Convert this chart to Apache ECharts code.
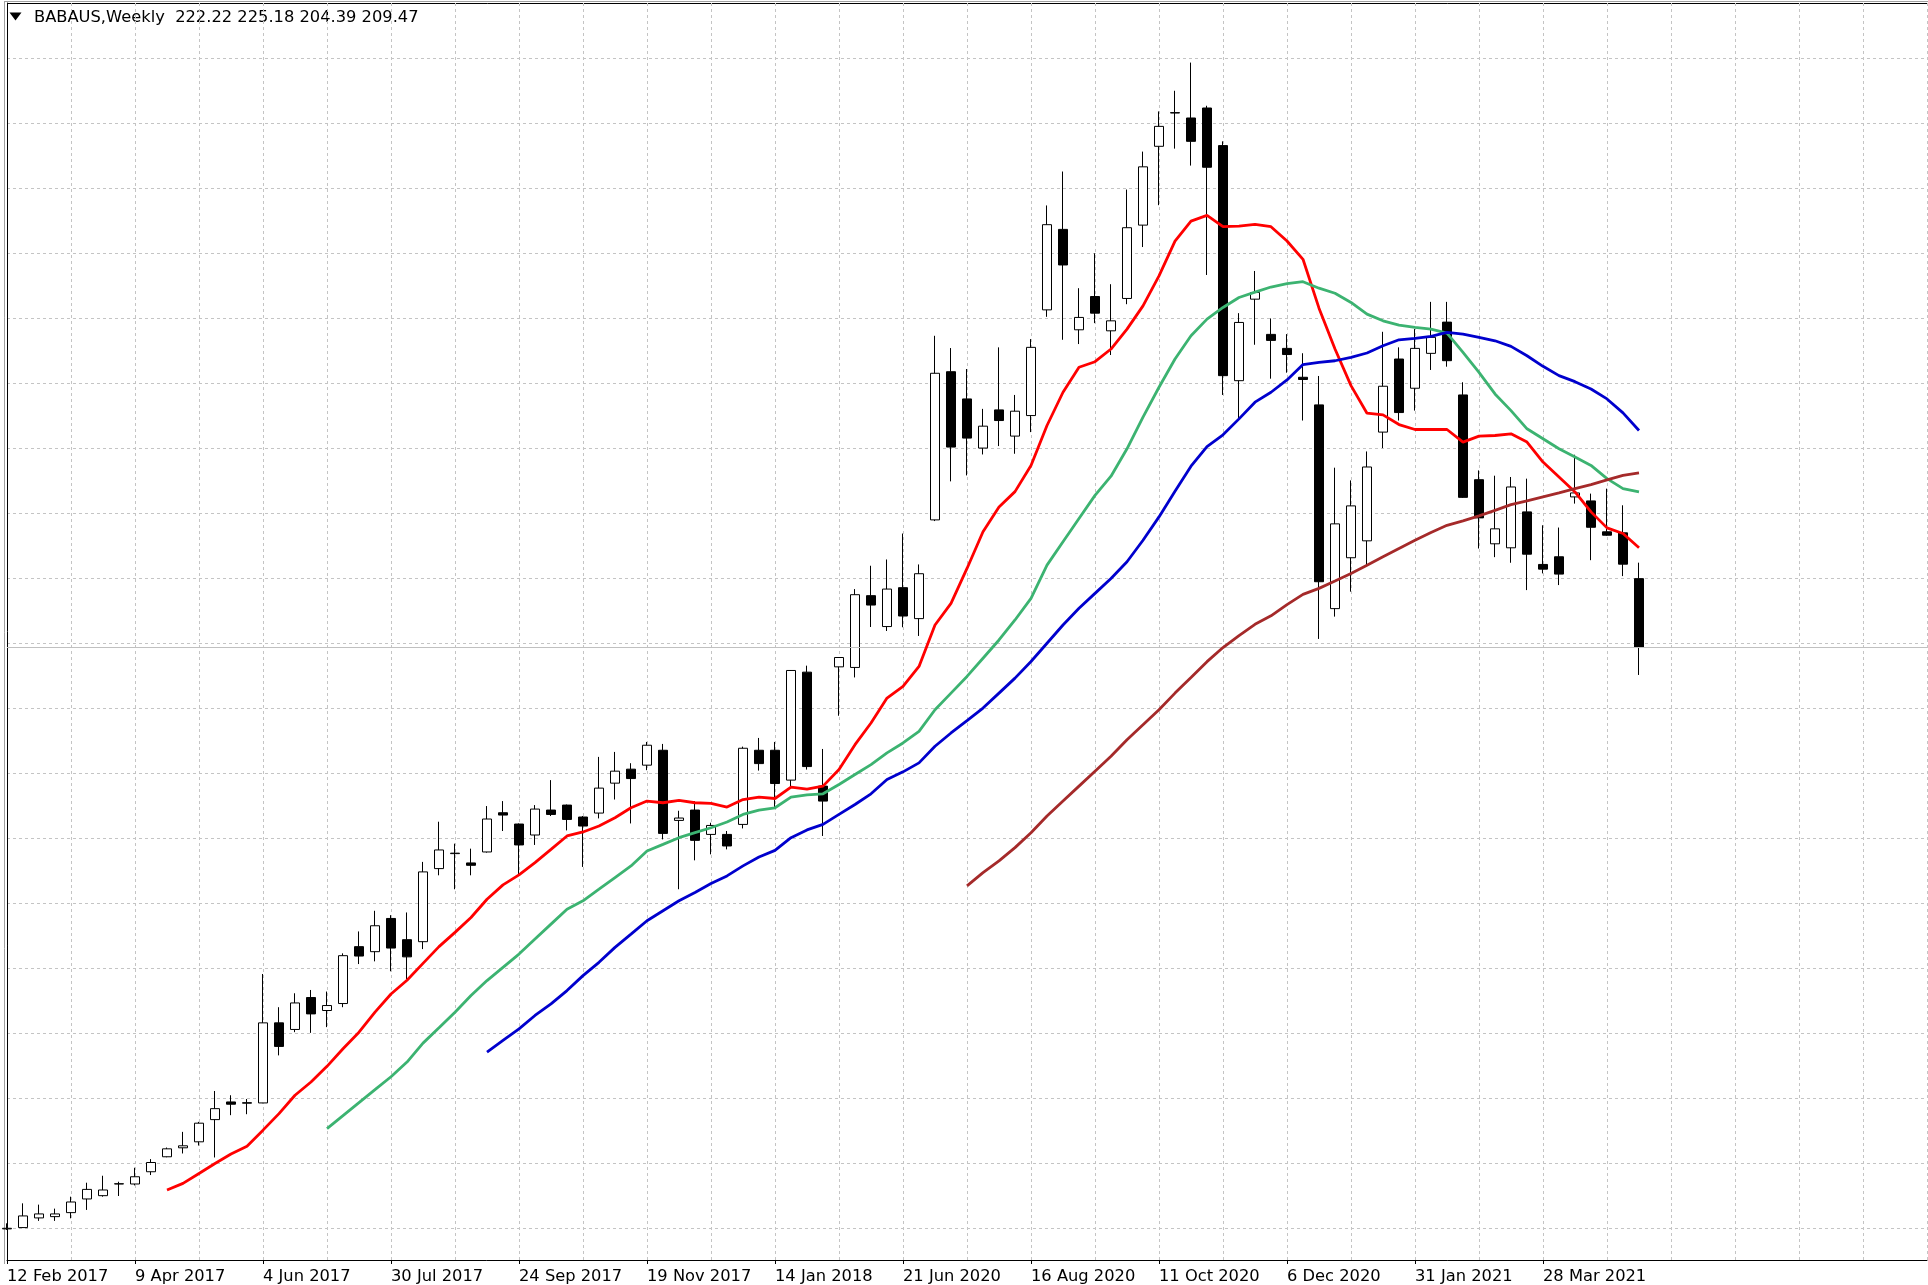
<!DOCTYPE html>
<html>
<head>
<meta charset="utf-8">
<title>BABAUS, Weekly</title>
<script src="https://cdn.jsdelivr.net/npm/echarts@6.0.0/dist/echarts.min.js"></script>
<style>
  html, body { margin: 0; padding: 0; background: #fff; }
  #chart { width: 1928px; height: 1285px; }
</style>
</head>
<body>
<div id="chart"></div>
<script>
// ── Data ─────────────────────────────────────────────────────

const symbol = 'BABAUS,Weekly';

// labels sit on every 8th weekly bar
const xLabels = [
  '12 Feb 2017', '9 Apr 2017', '4 Jun 2017', '30 Jul 2017', '24 Sep 2017',
  '19 Nov 2017', '14 Jan 2018', '21 Jun 2020', '16 Aug 2020', '11 Oct 2020',
  '6 Dec 2020', '31 Jan 2021', '28 Mar 2021',
];

const opens = [
  101.84, 102.08, 103.87, 104.11, 104.85, 107.38, 107.99, 110.15, 110.15, 112.42,
  115.19, 116.85, 117.96, 122.07, 125.34, 125.10, 125.16, 139.98, 138.76, 144.67,
  142.27, 143.56, 154.09, 153.16, 159.31, 155.38, 155.01, 168.54, 171.31, 169.59,
  171.62, 178.88, 176.79, 174.76, 179.38, 180.30, 178.09, 178.82, 184.36, 186.95,
  187.69, 190.45, 177.46, 179.38, 174.87, 174.87, 176.72, 190.45, 190.45, 184.92,
  204.91, 183.81, 205.89, 205.78, 219.07, 213.35, 220.55, 214.82, 233.10, 260.53,
  255.49, 246.39, 253.46, 248.61, 252.41, 271.98, 286.88, 268.29, 274.45, 268.10,
  274.09, 287.67, 302.26, 308.42, 307.50, 309.35, 302.39, 258.87, 273.96, 267.44,
  264.85, 259.50, 254.39, 216.67, 226.09, 229.22, 249.35, 262.88, 257.47, 263.93,
  269.71, 256.23, 240.54, 228.67, 227.93, 234.58, 224.85, 226.27, 237.35, 236.61,
  230.89, 230.70, 222.22,
];

const highs = [
  102.87, 106.57, 106.33, 105.59, 107.80, 110.39, 111.68, 110.57, 113.16, 114.76,
  116.90, 119.80, 121.65, 127.37, 126.58, 125.89, 149.03, 142.88, 145.46, 146.07,
  145.78, 152.85, 156.91, 160.73, 159.92, 160.42, 169.78, 177.22, 173.16, 172.23,
  180.12, 181.04, 176.90, 180.30, 184.92, 180.40, 178.27, 189.22, 190.14, 188.05,
  191.99, 191.62, 179.25, 181.04, 177.03, 175.50, 191.12, 192.73, 191.99, 205.30,
  206.11, 190.69, 207.70, 220.29, 224.61, 225.77, 230.57, 224.85, 267.18, 264.91,
  261.03, 253.65, 265.04, 256.23, 266.57, 291.31, 297.59, 275.99, 282.45, 276.73,
  294.26, 301.28, 308.72, 312.54, 317.76, 309.77, 303.18, 271.37, 279.18, 270.39,
  267.49, 263.95, 259.74, 242.76, 240.41, 245.77, 267.92, 265.04, 268.42, 273.46,
  273.46, 258.58, 242.26, 241.28, 241.04, 240.73, 232.10, 231.68, 245.16, 237.96,
  238.88, 235.80, 225.18,
];

const lows = [
  101.65, 102.02, 103.32, 103.32, 103.80, 105.35, 107.80, 107.93, 109.89, 111.81,
  115.10, 115.80, 117.27, 115.06, 122.89, 123.07, 125.10, 133.96, 138.26, 138.13,
  139.19, 142.88, 150.87, 151.37, 149.53, 148.10, 153.64, 167.30, 164.72, 167.30,
  171.50, 175.50, 167.49, 172.92, 178.27, 175.61, 168.85, 177.83, 181.33, 176.90,
  186.76, 173.95, 164.72, 170.07, 171.18, 172.10, 175.98, 186.69, 179.93, 183.49,
  186.87, 174.58, 196.84, 203.93, 213.27, 212.53, 213.22, 211.61, 232.88, 240.23,
  241.33, 245.21, 246.76, 245.34, 249.35, 270.69, 266.44, 265.65, 269.52, 263.62,
  273.03, 283.61, 291.36, 301.83, 298.69, 278.44, 256.23, 251.80, 265.52, 259.24,
  260.35, 251.49, 211.06, 215.19, 219.81, 224.72, 246.39, 251.49, 253.33, 260.85,
  261.46, 237.16, 227.80, 226.20, 225.16, 220.10, 223.19, 221.03, 236.11, 225.64,
  230.15, 222.69, 204.39,
];

const closes = [
  101.95, 104.24, 104.61, 104.61, 106.82, 109.15, 109.04, 110.20, 111.49, 114.13,
  116.66, 117.22, 121.41, 124.10, 124.92, 125.21, 139.98, 135.62, 143.67, 141.64,
  143.19, 152.42, 152.35, 157.96, 153.83, 152.20, 167.93, 171.99, 171.40, 169.15,
  177.72, 178.45, 172.92, 179.56, 178.57, 177.64, 176.42, 183.44, 186.58, 185.21,
  191.38, 175.06, 177.90, 173.77, 176.53, 172.73, 190.82, 187.98, 184.29, 205.22,
  187.43, 181.04, 207.62, 219.25, 217.33, 220.29, 215.30, 223.13, 260.24, 246.58,
  248.24, 250.45, 251.49, 253.22, 265.04, 287.75, 280.29, 270.58, 271.37, 269.95,
  287.19, 298.46, 305.95, 308.50, 303.18, 298.38, 259.80, 269.65, 275.19, 266.33,
  263.71, 259.09, 221.65, 232.36, 235.69, 242.89, 257.84, 252.97, 264.85, 266.89,
  262.57, 237.27, 233.47, 231.44, 239.19, 226.75, 223.98, 223.06, 238.09, 231.73,
  230.26, 224.90, 209.47,
];

// moving averages, each starting at its own bar
const maRedStart = 10;
const maRed = [
  109.04, 110.26, 112.10, 113.95, 115.69, 117.16, 120.12, 123.18, 126.58, 129.03,
  131.93, 135.18, 138.26, 141.96, 145.33, 147.86, 151.00, 154.09, 156.73, 159.49,
  162.87, 165.53, 167.38, 169.65, 172.10, 174.58, 175.32, 176.42, 177.96, 179.80,
  181.04, 180.73, 181.15, 180.73, 180.60, 179.93, 181.33, 181.78, 181.52, 183.62,
  183.25, 183.81, 186.87, 191.49, 195.49, 200.11, 202.27, 205.96, 213.64, 217.65,
  224.11, 230.89, 235.50, 238.33, 243.18, 250.57, 256.73, 261.35, 262.38, 264.73,
  268.42, 272.72, 278.26, 284.72, 288.41, 289.46, 287.38, 287.49, 287.80, 287.38,
  284.72, 281.34, 272.29, 264.73, 257.95, 252.85, 252.54, 250.75, 249.83, 249.83,
  249.83, 247.50, 248.61, 248.72, 249.03, 247.50, 243.81, 241.04, 238.27, 234.58,
  231.62, 230.57, 227.93,
];

const maGreenStart = 20;
const maGreen = [
  120.41, 122.81, 125.21, 127.61, 130.01, 132.73, 136.23, 139.06, 141.96, 145.04,
  147.81, 150.26, 152.72, 155.49, 158.26, 161.03, 162.58, 164.72, 166.88, 169.04,
  171.81, 173.03, 174.26, 175.19, 176.11, 177.16, 178.57, 179.38, 179.80, 181.78,
  182.20, 182.39, 184.10, 185.95, 187.80, 189.96, 191.80, 193.96, 197.95, 201.03,
  204.12, 207.49, 210.87, 214.57, 218.57, 224.72, 229.04, 233.34, 237.64, 241.19,
  246.26, 252.12, 257.65, 262.88, 267.18, 270.26, 272.42, 274.27, 275.25, 276.21,
  276.82, 277.19, 275.99, 275.06, 273.35, 271.19, 269.95, 269.16, 268.73, 268.42,
  267.68, 264.12, 260.42, 256.42, 253.33, 249.96, 248.11, 246.26, 244.73, 243.18,
  240.73, 238.88, 238.27,
];

const maBlueStart = 30;
const maBlue = [
  134.57, 136.73, 138.87, 141.35, 143.49, 145.96, 148.73, 151.19, 153.96, 156.41,
  158.89, 160.73, 162.58, 164.11, 165.77, 167.19, 169.04, 170.70, 171.92, 174.26,
  175.70, 176.72, 178.57, 180.41, 182.39, 185.03, 186.45, 188.11, 191.19, 193.65,
  195.92, 198.26, 201.03, 203.80, 206.89, 210.26, 213.64, 216.73, 219.49, 222.26,
  225.35, 229.33, 233.65, 238.42, 243.03, 246.67, 248.85, 251.80, 254.89, 256.73,
  259.00, 261.86, 262.27, 262.56, 263.19, 263.99, 265.33, 266.44, 266.70, 267.07,
  267.81, 267.49, 266.89, 266.26, 265.22, 263.49, 261.53, 259.80, 258.69, 257.34,
  255.49, 252.91, 249.64,
];

const maBrownStart = 60;
const maBrown = [
  165.35, 167.80, 169.96, 172.42, 175.19, 178.27, 181.04, 183.81, 186.58, 189.35,
  192.41, 195.18, 197.95, 201.03, 203.93, 206.85, 209.47, 211.69, 213.77, 215.34,
  217.41, 219.31, 220.42, 221.77, 223.19, 224.72, 226.27, 227.80, 229.33, 230.76,
  232.10, 232.92, 233.84, 234.87, 235.93, 236.61, 237.35, 238.09, 238.88, 239.62,
  240.49, 241.33, 241.78,
];


// ── Layout constants ─────────────────────────────────────────

const SLOTS      = 121;               // bars that fit the window, 16px apart
const PRICE_MIN  = 96.08;             // price at the bottom axis line
const PRICE_MAX  = 328.79;            // price at the top border
const GRID_ROWS  = 18;                // dashed rows between 58px and 1228px
const FONT       = '"DejaVu Sans", Verdana, sans-serif';
const FONT_SIZE  = 16.3;


// ── Helpers ──────────────────────────────────────────────────

const pad = (start, values) => Array(start).fill(null).concat(values);

const hasLabel = idx => idx % 8 === 0 && idx / 8 < xLabels.length;

const last    = opens.length - 1;
const ohlcTxt = [opens[last], highs[last], lows[last], closes[last]]
  .map(v => v.toFixed(2)).join(' ');

function maSeries(name, color, start, values) {
  return {
    name,
    type: 'line',
    data: pad(start, values),
    symbol: 'none',
    silent: true,
    lineStyle: { color, width: 2.8 },
    z: 5,
  };
}


// ── Chart ────────────────────────────────────────────────────

const chart = echarts.init(document.getElementById('chart'), null, { renderer: 'canvas' });

chart.setOption({
  backgroundColor: '#ffffff',
  animation: false,
  textStyle: { fontFamily: FONT },

  grid: [
    { left: 7, right: 1, top: 3, bottom: 21.5 },
    { left: 7, right: 1, top: 58.3, bottom: 56.7 },
  ],

  xAxis: [
    {
      type: 'category',
      gridIndex: 0,
      data: Array.from({ length: SLOTS }, (_, i) => String(i)),
      boundaryGap: false,
      axisLine:  { lineStyle: { color: '#000', width: 1 } },
      axisTick:  { interval: hasLabel, length: 4, lineStyle: { color: '#000' } },
      axisLabel: {
        interval: hasLabel,
        formatter: (v, idx) => xLabels[idx / 8] || '',
        align: 'left',
        margin: 9,
        color: '#000',
        fontSize: FONT_SIZE,
        fontFamily: FONT,
      },
      splitLine: {
        show: true,
        interval: 3,
        lineStyle: { color: '#c4c4c4', width: 1, type: [3, 3] },
      },
    },
    { type: 'value', gridIndex: 1, show: false, min: 0, max: 1 },
  ],

  yAxis: [
    {
      type: 'value',
      gridIndex: 0,
      min: PRICE_MIN,
      max: PRICE_MAX,
      axisLine:  { show: true, lineStyle: { color: '#000', width: 1 } },
      axisTick:  { show: false },
      axisLabel: { show: false },
      splitLine: { show: false },
    },
    {
      // only here to lay the dashed horizontal grid
      type: 'value',
      gridIndex: 1,
      min: 0,
      max: GRID_ROWS,
      interval: 1,
      axisLine:  { show: false },
      axisTick:  { show: false },
      axisLabel: { show: false },
      splitLine: { show: true, lineStyle: { color: '#c4c4c4', width: 1, type: [3, 3] } },
    },
  ],

  series: [
    {
      name: symbol,
      type: 'candlestick',
      data: opens.map((o, i) => [o, closes[i], lows[i], highs[i]]),
      barWidth: 9,
      clip: true,
      silent: true,
      itemStyle: {
        color: '#ffffff',
        color0: '#000000',
        borderColor: '#000000',
        borderColor0: '#000000',
        borderWidth: 1,
      },
      markLine: {
        silent: true,
        symbol: ['none', 'none'],
        label: { show: false },
        lineStyle: { color: '#c0c0c0', width: 1, type: 'solid' },
        data: [{ yAxis: closes[last] }],
      },
    },
    maSeries('MA red',   '#ff0000', maRedStart,   maRed),
    maSeries('MA green', '#3cb371', maGreenStart, maGreen),
    maSeries('MA blue',  '#0000cd', maBlueStart,  maBlue),
    maSeries('MA brown', '#a52a2a', maBrownStart, maBrown),
  ],

  graphic: [
    // window frame
    { type: 'line', silent: true, shape: { x1: 4.5, y1: 1.5, x2: 4.5, y2: 1264 },
      style: { stroke: '#a0a0a0', lineWidth: 1 } },
    { type: 'line', silent: true, shape: { x1: 4, y1: 1.5, x2: 1928, y2: 1.5 },
      style: { stroke: '#a0a0a0', lineWidth: 1 } },
    { type: 'line', silent: true, shape: { x1: 7, y1: 3.5, x2: 1928, y2: 3.5 },
      style: { stroke: '#000', lineWidth: 1 } },
    // header
    { type: 'polygon', silent: true,
      shape: { points: [[9.5, 12.5], [21.5, 12.5], [15.5, 20.5]] },
      style: { fill: '#000' } },
    { type: 'text', silent: true, x: 34, y: 17.5,
      style: { text: symbol + '  ' + ohlcTxt, font: FONT_SIZE + 'px ' + FONT,
               fill: '#000', verticalAlign: 'middle' } },
  ],
});
</script>
</body>
</html>
